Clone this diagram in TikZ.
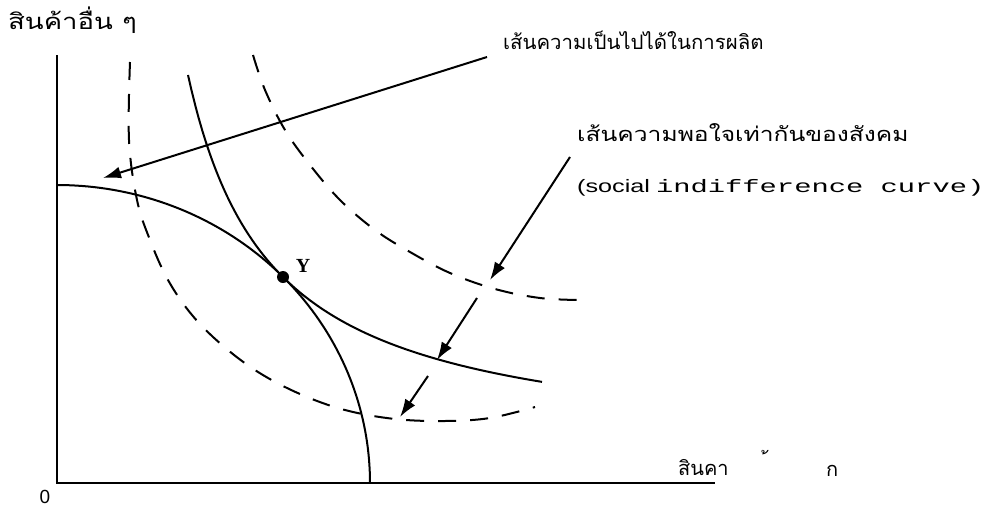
\documentclass[tikz,border=0pt]{standalone}
\usepackage{fontspec}
\setmainfont{Liberation Sans}
\newfontfamily\thai[Script=Thai]{Loma}
\newfontfamily\lmono{Liberation Mono}
\newfontfamily\lserif{Liberation Serif}
\usetikzlibrary{arrows.meta}
\begin{document}
\begin{tikzpicture}[x=1pt,y=-1pt,
  curve/.style={line width=2pt},
  dcurve/.style={line width=2pt, dash pattern=on 18pt off 14pt},
  arr/.style={line width=2pt,-{Latex[length=18pt,width=12pt]}},
  lbl/.style={inner sep=0pt,anchor=west}]
\useasboundingbox (0,0) rectangle (1001,506);
% axes
\coordinate (top) at (57,55);
\coordinate (O) at (57,483);
\coordinate (xend) at (715,483);
\draw[line width=2.6pt] (top) -- (O) -- (xend);
\node[inner sep=0pt] (zero) at (45,497) {\fontsize{19}{21}\selectfont 0};
% production possibility curve (concave)
\draw[curve] plot[domain=90:0, samples=80] ({57+313*cos(\x)}, {483-298*sin(\x)});
% social indifference curve (solid, tangent at Y)
\draw[curve] plot[domain=188:542, samples=100] (\x, {454-315.33/((\x-104.8)/100)});
% dashed indifference curves
\draw[dcurve] plot[smooth, tension=0.6] coordinates {(130,62) (129,140) (137,200) (150,240) (168,280) (192,315) (222,345) (258,372) (300,394) (345,410) (395,419) (445,421) (490,418) (535,407)};
\draw[dcurve] plot[smooth, tension=0.6] coordinates {(253,55) (265,90) (285,130) (310,165) (340,200) (375,230) (410,252) (450,273) (495,289) (540,298) (580,300)};
% point Y
\fill (283,277) circle (6pt);
\node[inner sep=0pt] (Y) at (303,266) {\lserif\bfseries\fontsize{20}{22}\selectfont Y};
% labels
\node[lbl] (yl) at (8,20) {\thai\fontsize{22}{24}\selectfont\scalebox{1.25}[1]{สินค้าอื่น ๆ}};
\node[lbl] (ppf) at (503,40) {\thai\fontsize{20}{22}\selectfont\scalebox{1.02}[1]{เส้นความเป็นไปได้ในการผลิต}};
\node[lbl] (sic) at (577,133) {\thai\fontsize{20}{22}\selectfont\scalebox{1.23}[1]{เส้นความพอใจเท่ากันของสังคม}};
\node[lbl] (sice) at (577,188) {\fontsize{18}{20}\selectfont\scalebox{1.4}[1]{(social}\hspace{6pt}\lmono\scalebox{1.6}[1]{indifference curve)}};
\node[lbl] (xl) at (678,468) {\thai\fontsize{20}{22}\selectfont สินคา};
\node[lbl,anchor=base west] (xk) at (768,476) {\thai\fontsize{20}{22}\selectfont\raisebox{5pt}{้}\hspace{58pt}ก};
% arrows
\coordinate (pa) at (487,57);
\coordinate (pt) at (103,178);
\draw[arr] (pa) -- (pt);
\coordinate (s1a) at (570,157);
\coordinate (s1t) at (490,280);
\draw[arr] (s1a) -- (s1t);
\coordinate (s2a) at (477,298);
\coordinate (s2t) at (437,360);
\draw[arr] (s2a) -- (s2t);
\coordinate (s3a) at (428,376);
\coordinate (s3t) at (400,417);
\draw[arr] (s3a) -- (s3t);
\end{tikzpicture}
\end{document}
